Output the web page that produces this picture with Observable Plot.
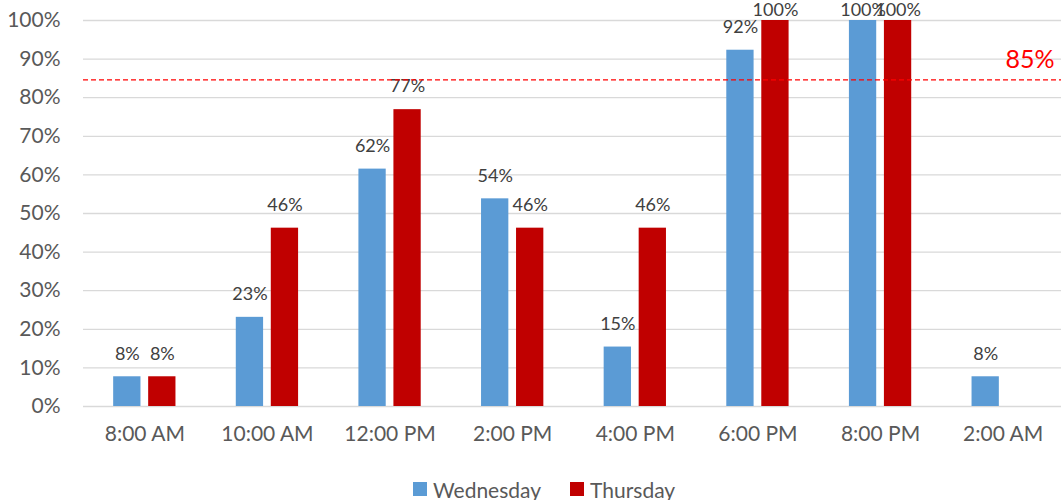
<!DOCTYPE html>
<html><head><meta charset="utf-8">
<script src="https://cdn.jsdelivr.net/npm/d3@7"></script>
<script src="https://cdn.jsdelivr.net/npm/@observablehq/plot@0.6"></script>
<style>
body{margin:0;background:#fff;font-family:Lato,sans-serif;overflow:hidden;}
#legend{display:flex;align-items:center;height:22px;padding-left:413px;font-size:21px;color:#595959;}
#legend .item{display:flex;align-items:center;margin-right:29px;}
#legend .sw{width:14px;height:14px;display:inline-block;margin-right:6px;}
</style></head><body>
<div id="chart"></div>
<div id="legend"></div>
<script>
const times = ["8:00 AM","10:00 AM","12:00 PM","2:00 PM","4:00 PM","6:00 PM","8:00 PM","2:00 AM"];
const wednesday = [0.077, 0.231, 0.615, 0.538, 0.154, 0.923, 1.0, 0.077];
const thursday  = [0.077, 0.462, 0.769, 0.462, 0.462, 1.0, 1.0, null];
const seriesNames = ["Wednesday", "Thursday"];
const seriesColors = ["#5B9BD5", "#C00000"];
const target = 0.846;
const targetLabel = "85%";
const yTicks = [0, 0.1, 0.2, 0.3, 0.4, 0.5, 0.6, 0.7, 0.8, 0.9, 1.0];

const rows = [];
times.forEach((t, i) => {
  if (wednesday[i] != null) rows.push({time: t, series: seriesNames[0], value: wednesday[i]});
  if (thursday[i] != null) rows.push({time: t, series: seriesNames[1], value: thursday[i]});
});
const wed = rows.filter(d => d.series === seriesNames[0]);
const thu = rows.filter(d => d.series === seriesNames[1]);
const fmt = d3.format(".0%");
const nearTop = d => d.value >= 0.97;

const labelOpts = (dx) => ({x: "time", y: "value", text: d => fmt(d.value), dx, fill: "#404040", fontSize: 18});

const chart = Plot.plot({
  width: 1061,
  height: 478,
  marginLeft: 83,
  marginRight: -3,
  marginTop: 20,
  marginBottom: 72,
  style: {fontFamily: "Lato, sans-serif", fontSize: "21px", color: "#595959", background: "#fff", overflow: "visible"},
  x: {domain: times, paddingInner: 0.492, paddingOuter: 0.246, round: false, label: null},
  y: {domain: [0, 1], label: null},
  color: {domain: seriesNames, range: seriesColors},
  marks: [
    Plot.ruleY(yTicks, {stroke: "#d9d9d9", strokeWidth: 1.3}),
    Plot.axisY({ticks: yTicks, tickFormat: fmt, tickSize: 0, tickPadding: 23, fontSize: 21, label: null}),
    Plot.axisX({tickSize: 0, tickPadding: 20, fontSize: 21, label: null}),
    Plot.barY(wed, {x: "time", y: "value", fill: "series", insetRight: 35}),
    Plot.barY(thu, {x: "time", y: "value", fill: "series", insetLeft: 35}),
    Plot.text(wed.filter(d => !nearTop(d)), {...labelOpts(-17.5), dy: -23}),
    Plot.text(thu.filter(d => !nearTop(d)), {...labelOpts(17.5), dy: -23}),
    Plot.text(wed.filter(nearTop), {...labelOpts(-17.5), dy: -10}),
    Plot.text(thu.filter(nearTop), {...labelOpts(17.5), dy: -10}),
    Plot.ruleY([target], {stroke: "#FF0000", strokeWidth: 1.2, strokeDasharray: "5,3"}),
    Plot.text([target], {y: d => d, text: [targetLabel], frameAnchor: "right", textAnchor: "end", dx: -10, dy: -20, fill: "#FF0000", fontSize: 25})
  ]
});
document.getElementById("chart").appendChild(chart);

const legend = document.getElementById("legend");
seriesNames.forEach((s, i) => {
  const item = document.createElement("span");
  item.className = "item";
  const sw = document.createElement("span");
  sw.className = "sw";
  sw.style.background = seriesColors[i];
  item.appendChild(sw);
  item.appendChild(document.createTextNode(s));
  legend.appendChild(item);
});
</script>
</body></html>
